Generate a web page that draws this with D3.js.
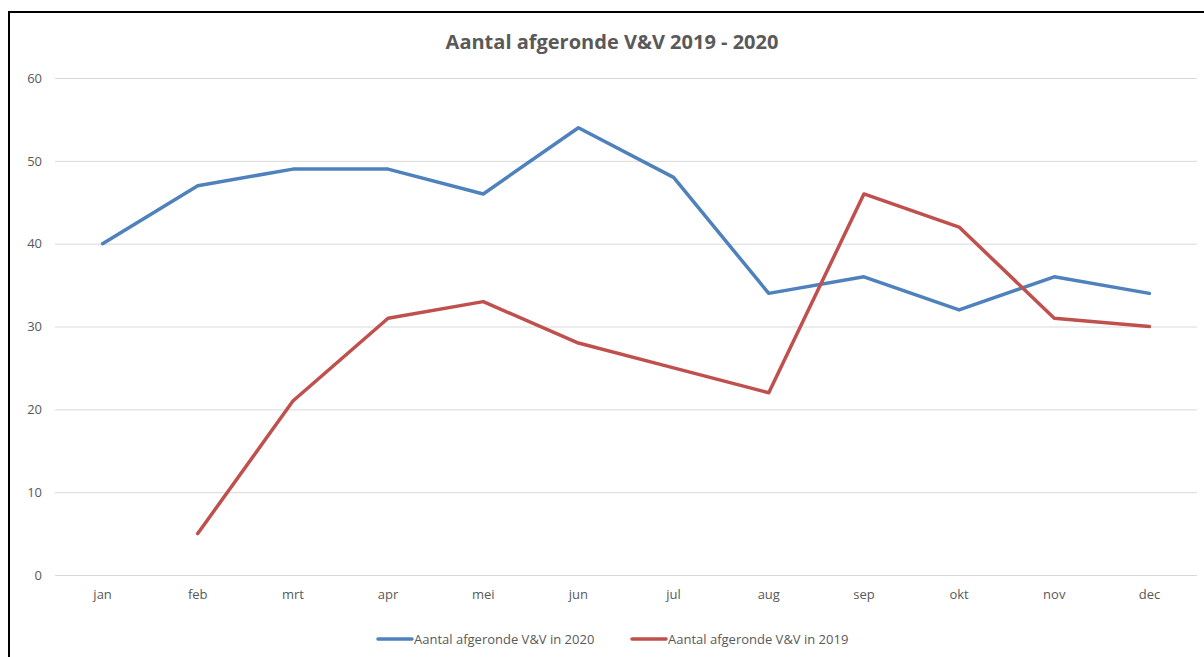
<!DOCTYPE html>
<html>
<head>
<meta charset="utf-8">
<script src="https://cdn.jsdelivr.net/npm/d3@7"></script>
<style>
  body { margin: 0; background: #fff; }
  svg { display: block; }
</style>
</head>
<body>
<script>
const months = ['jan', 'feb', 'mrt', 'apr', 'mei', 'jun', 'jul', 'aug', 'sep', 'okt', 'nov', 'dec']
const values2020 = [40, 47, 49, 49, 46, 54, 48, 34, 36, 32, 36, 34]
const values2019 = [null, 5, 21, 31, 33, 28, 25, 22, 46, 42, 31, 30]
const yTicks = [0, 10, 20, 30, 40, 50, 60]

const series = [
  {name: 'Aantal afgeronde V&V in 2020', values: values2020, color: '#4f81bd'},
  {name: 'Aantal afgeronde V&V in 2019', values: values2019, color: '#c0504d'}
]

const width = 1204
const height = 657
const font = '"Open Sans", sans-serif'

const svg = d3.select('body').append('svg')
  .attr('viewBox', `0 0 ${width} ${height}`)
  .attr('width', width)
  .attr('height', height)

// chart frame
svg.append('rect')
  .attr('x', 9).attr('y', 12)
  .attr('width', width + 10).attr('height', height + 10)
  .attr('fill', '#fff')
  .attr('stroke', '#000')
  .attr('stroke-width', 2)

const margin = {top: 78, right: 7, bottom: 82, left: 55}

const x = d3.scaleBand()
  .domain(months)
  .range([margin.left, width - margin.right])

const y = d3.scaleLinear()
  .domain([0, 60])
  .range([height - margin.bottom, margin.top])

// gridlines + y labels
const yAxis = svg.append('g')
  .attr('transform', `translate(${margin.left},0)`)
  .call(d3.axisLeft(y).tickValues(yTicks).tickSize(-(width - margin.left - margin.right)).tickPadding(13))
yAxis.select('.domain').remove()
yAxis.selectAll('.tick line').attr('stroke', '#d9d9d9').attr('stroke-width', 1)
yAxis.selectAll('.tick text')
  .attr('fill', '#595959')
  .attr('font-family', font)
  .attr('font-size', 13)

// x labels
const xAxis = svg.append('g')
  .attr('transform', `translate(0,${height - margin.bottom})`)
  .call(d3.axisBottom(x).tickSize(0).tickPadding(15))
xAxis.select('.domain').remove()
xAxis.selectAll('.tick text')
  .attr('fill', '#595959')
  .attr('font-family', font)
  .attr('font-size', 13)

const line = d3.line()
  .defined(d => d[1] != null)
  .x(d => x(d[0]) + x.bandwidth() / 2)
  .y(d => y(d[1]))

svg.append('g')
  .selectAll('path')
  .data(series)
  .join('path')
    .attr('d', s => line(months.map((m, i) => [m, s.values[i]])))
    .attr('fill', 'none')
    .attr('stroke', s => s.color)
    .attr('stroke-width', 3.5)
    .attr('stroke-linejoin', 'round')
    .attr('stroke-linecap', 'round')

// title
svg.append('text')
  .attr('x', 612).attr('y', 49)
  .attr('text-anchor', 'middle')
  .attr('fill', '#595959')
  .attr('font-family', font)
  .attr('font-size', 20)
  .attr('font-weight', 'bold')
  .text('Aantal afgeronde V&V 2019 - 2020')

// legend
const legendX = [378, 632]
const legend = svg.append('g')
  .selectAll('g')
  .data(series)
  .join('g')
    .attr('transform', (s, i) => `translate(${legendX[i]},639)`)
legend.append('line')
  .attr('x1', 0).attr('x2', 34)
  .attr('stroke', s => s.color)
  .attr('stroke-width', 3.5)
  .attr('stroke-linecap', 'round')
legend.append('text')
  .attr('x', 36).attr('y', 5)
  .attr('fill', '#595959')
  .attr('font-family', font)
  .attr('font-size', 13)
  .text(s => s.name)
</script>
</body>
</html>
